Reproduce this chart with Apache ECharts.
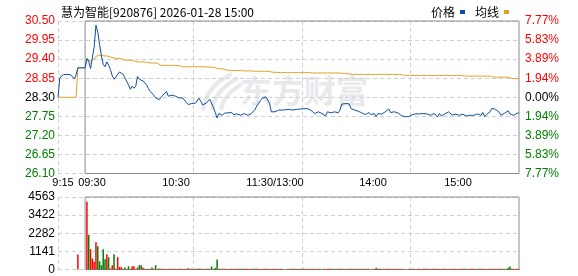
<!DOCTYPE html>
<html><head><meta charset="utf-8">
<script src="https://cdn.jsdelivr.net/npm/echarts@6/dist/echarts.min.js"></script>
<style>html,body{margin:0;padding:0;background:#fff}#c{width:578px;height:276px}</style>
</head><body><div id="c"></div>
<script>
const titleText = '慧为智能[920876] 2026-01-28 15:00';
const legendNames = ['价格', '均线'];
const prevClose = 28.30;
const volMax = 4563;
const xLabels = ['9:15', '09:30', '10:30', '11:30/13:00', '14:00', '15:00'];
const watermark = '东方财富';

const price = [
28.30,28.86,28.90,28.95,29.00,28.96,28.95,28.95,28.94,28.83,
28.95,29.15,29.15,29.15,29.15,29.15,29.42,29.34,29.13,29.13,
29.75,30.38,30.18,29.82,29.50,29.25,29.18,29.32,29.22,29.10,
28.92,28.82,28.88,28.90,29.03,29.02,28.96,28.86,28.84,28.66,
28.53,28.62,28.56,28.62,28.90,28.82,28.77,28.77,28.76,28.66,
28.55,28.47,28.42,28.36,28.28,28.25,28.23,28.30,28.36,28.40,
28.47,28.33,28.34,28.36,28.37,28.33,28.28,28.28,28.29,28.28,
28.24,28.15,28.09,28.07,28.12,28.13,28.13,28.14,28.27,28.18,
28.08,28.10,28.13,28.13,28.24,28.20,28.00,27.86,27.70,27.83,
27.88,27.78,27.84,27.88,27.85,27.83,27.86,27.80,27.78,27.82,
27.83,27.78,27.80,27.83,27.80,27.78,27.82,27.83,27.88,27.95,
28.05,28.13,28.20,28.27,28.32,28.31,28.30,28.13,27.88,27.88,
27.88,27.90,27.93,27.91,27.93,27.97,27.94,27.91,27.95,27.96,
27.93,27.92,27.95,27.97,27.96,27.92,27.97,27.94,27.97,27.95,
27.92,27.88,27.83,27.85,27.88,27.85,27.83,27.88,27.76,27.88,
27.86,27.85,27.86,27.88,27.86,27.85,27.93,28.10,28.13,28.12,
28.13,28.11,27.98,27.94,27.93,27.94,27.90,27.87,27.85,27.83,
27.80,27.78,27.86,27.80,27.79,27.83,27.74,27.83,27.82,27.81,
27.85,27.88,27.92,27.96,27.86,27.87,27.88,27.85,27.85,27.88,
27.77,27.74,27.74,27.74,27.74,27.78,27.80,27.83,27.82,27.81,
27.82,27.83,27.83,27.83,27.82,27.80,27.78,27.80,27.83,27.80,
27.74,27.83,27.76,27.81,27.82,27.83,27.88,27.84,27.79,27.80,
27.81,27.80,27.78,27.80,27.81,27.79,27.76,27.78,27.78,27.76,
27.78,27.78,27.82,27.86,27.78,27.86,27.74,27.80,27.83,27.88,
27.98,27.96,27.95,27.92,27.87,27.78,27.74,27.84,27.88,27.91,
27.82,27.80,27.78,27.83,27.84,27.85
];

const avgPrice = [
28.30,28.30,28.30,28.30,28.30,28.30,28.30,28.30,28.30,28.30,
28.30,29.15,29.15,29.15,29.15,29.15,29.38,29.36,29.34,29.34,
29.40,29.48,29.50,29.51,29.50,29.50,29.50,29.49,29.47,29.46,
29.45,29.43,29.42,29.42,29.42,29.41,29.38,29.37,29.37,29.37,
29.37,29.37,29.36,29.33,29.32,29.32,29.32,29.32,29.32,29.31,
29.30,29.29,29.29,29.29,29.29,29.28,29.24,29.22,29.22,29.22,
29.22,29.22,29.22,29.22,29.22,29.22,29.22,29.21,29.20,29.18,
29.18,29.18,29.18,29.18,29.18,29.18,29.18,29.18,29.18,29.18,
29.18,29.18,29.17,29.17,29.17,29.17,29.17,29.15,29.12,29.12,
29.12,29.12,29.12,29.09,29.07,29.07,29.07,29.07,29.07,29.07,
29.07,29.07,29.07,29.06,29.06,29.06,29.06,29.06,29.05,29.05,
29.05,29.05,29.05,29.05,29.05,29.05,29.05,29.04,29.03,29.02,
29.02,29.02,29.01,29.01,29.01,29.01,29.01,29.01,29.01,29.01,
29.01,29.01,29.01,29.01,29.01,29.01,29.01,29.01,29.01,29.01,
29.01,29.00,29.00,29.00,29.00,29.00,29.00,29.00,29.00,29.00,
29.00,29.00,29.00,29.00,29.00,29.00,29.00,28.99,28.99,28.99,
28.98,28.97,28.96,28.96,28.96,28.96,28.96,28.96,28.96,28.96,
28.96,28.96,28.96,28.96,28.96,28.96,28.96,28.96,28.96,28.96,
28.96,28.96,28.96,28.96,28.96,28.96,28.96,28.96,28.96,28.96,
28.95,28.94,28.93,28.93,28.93,28.93,28.93,28.93,28.93,28.93,
28.93,28.93,28.93,28.93,28.93,28.93,28.93,28.93,28.93,28.93,
28.93,28.93,28.93,28.93,28.93,28.93,28.93,28.93,28.93,28.93,
28.93,28.93,28.93,28.93,28.92,28.91,28.91,28.91,28.91,28.91,
28.91,28.91,28.91,28.91,28.91,28.91,28.91,28.91,28.91,28.91,
28.89,28.88,28.88,28.88,28.88,28.88,28.88,28.88,28.88,28.88,
28.86,28.84,28.84,28.84,28.84,28.84
];

const volume = [
0,0,0,0,0,0,0,0,0,0,
0,950,0,0,0,0,4270,2170,1280,690,
480,1720,1470,520,270,1280,650,960,780,60,
270,960,40,780,150,150,40,126,40,210,
40,210,210,40,126,273,273,126,40,40,
40,40,126,40,273,40,63,40,40,40,
40,40,40,40,40,40,40,40,40,40,
40,40,84,40,40,40,40,40,60,40,
40,40,40,40,40,190,40,105,630,40,
40,50,40,40,30,40,50,40,40,40,
40,40,50,40,40,40,40,40,50,40,
40,40,40,40,40,50,40,40,40,40,
40,40,40,40,40,0,0,40,40,40,
40,40,40,40,40,40,40,40,40,40,
40,40,40,40,40,40,0,40,40,40,
40,40,40,40,40,40,40,40,40,40,
40,40,40,40,40,40,40,40,40,40,
40,40,40,0,40,40,105,40,40,40,
40,40,40,40,40,40,40,40,40,40,
40,40,0,0,40,40,40,40,0,40,
40,40,40,40,40,40,40,40,40,40,
40,40,40,40,40,40,40,40,40,40,
40,40,40,40,40,40,40,40,40,40,
40,40,40,40,40,40,40,40,40,40,
40,40,40,40,40,40,40,40,40,110,
190,40,40,40,40,40
];

// 1 = rising minute (red), 0 = falling minute (green)
const volUp = [
1,1,1,1,1,1,1,1,1,1,
1,1,1,1,1,1,1,0,1,1,
1,1,0,0,0,0,0,1,0,1,
1,0,1,1,1,1,0,0,1,0,
0,1,1,0,1,0,0,1,0,1,
0,1,0,1,0,0,1,1,1,0,
1,1,0,0,1,1,0,1,1,1,
0,1,0,1,1,0,1,0,0,1,
1,0,1,1,0,0,1,0,0,1,
0,1,0,1,1,0,1,0,1,1,
1,0,0,1,1,1,0,1,1,0,
1,1,0,1,0,1,1,1,0,1,
1,0,1,1,0,1,1,1,0,1,
0,1,1,0,1,0,0,1,1,1,
0,1,0,1,1,0,1,0,1,1,
1,0,1,0,0,1,1,0,1,0,
1,1,0,1,1,0,0,1,0,1,
1,0,1,1,0,1,0,1,1,0,
1,1,0,1,0,1,1,0,1,1,
0,1,1,0,1,1,0,1,0,1,
1,0,0,1,1,0,1,1,0,1,
0,1,1,1,0,1,0,1,1,0,
1,1,0,1,1,0,1,0,1,1,
0,1,1,0,1,1,1,0,1,0,
1,0,1,1,0,1,0,1,0,0,
0,1,1,0,1,1
];

// minute categories: 9:15-11:30 and 13:01-15:00
const times = [];
function addRange(a, b) { for (let t = a; t <= b; t++) times.push(String(Math.floor(t / 60)).padStart(2, '0') + ':' + String(t % 60).padStart(2, '0')); }
addRange(9 * 60 + 15, 11 * 60 + 30);
addRange(13 * 60 + 1, 15 * 60);

const RED = '#ff0000', GREEN = '#008000', BLUE = '#0b4fa3', GOLD = '#dca426';
const GRIDC = '#cfcfcf', BOXC = '#8c8c8c';
const toCents = p => Math.round((p - prevClose) * 100);
const priceC = price.map(toCents);
const avgC = avgPrice.map(toCents);
const dashedIdx = [times.indexOf('09:15'), times.indexOf('10:30'), times.indexOf('11:30'), times.indexOf('14:00')];
const boxFrom = times.indexOf('09:30'), boxTo = times.length - 1;
const colorOf = v => { v = Number(v); return v > 0 ? RED : (v < 0 ? GREEN : '#000'); };
const FONT = 'Liberation Sans';

const chart = echarts.init(document.getElementById('c'), null, { renderer: 'canvas' });

const xLabelX = [63, 92, 176, 275, 373, 458];
const xAx = gi => ({
  type: 'category', gridIndex: gi, data: times, boundaryGap: false,
  axisLine: { show: false }, axisTick: { show: false }, axisLabel: { show: false },
  splitLine: { show: true, interval: (i) => dashedIdx.includes(i), lineStyle: { color: GRIDC, type: [4, 3], width: 1 } }
});
const boxArea = (ymin, ymax) => ({
  silent: true,
  itemStyle: { color: 'rgba(0,0,0,0)', borderColor: BOXC, borderWidth: 1 },
  data: [[{ xAxis: times[boxFrom], yAxis: ymin }, { xAxis: times[boxTo], yAxis: ymax }]]
});
const wmC = '#e8e8ed';

chart.setOption({
  animation: false,
  backgroundColor: '#fff',
  title: { text: titleText, left: 56, top: 1, textStyle: { fontSize: 12, fontWeight: 'normal', color: '#000', fontFamily: 'Noto Sans CJK SC' } },
  legend: {
    data: legendNames, right: 64, top: 1, align: 'right', icon: 'rect', itemWidth: 5, itemHeight: 4, itemGap: 10,
    textStyle: { fontSize: 12, color: '#000', fontFamily: 'Noto Sans CJK SC' }
  },
  grid: [
    { left: 58, right: 59, top: 21, height: 152.5 },
    { left: 58, right: 59, top: 197, height: 72.5 }
  ],
  xAxis: [xAx(0), xAx(1)],
  yAxis: [
    { type: 'value', gridIndex: 0, min: -220, max: 220, interval: 55,
      axisLine: { show: false }, axisTick: { show: false },
      axisLabel: { margin: 3, fontSize: 12, fontFamily: FONT, color: colorOf, formatter: v => (prevClose + v / 100).toFixed(2) },
      splitLine: { show: true, lineStyle: { color: GRIDC, type: [4, 3] } } },
    { type: 'value', gridIndex: 0, position: 'right', min: -220, max: 220, interval: 55,
      axisLine: { show: false }, axisTick: { show: false },
      axisLabel: { margin: 6, fontSize: 12, fontFamily: FONT, color: colorOf, formatter: v => (Math.abs(v) / 100 / prevClose * 100).toFixed(2) + '%' },
      splitLine: { show: false } },
    { type: 'value', gridIndex: 1, min: 0, max: volMax, interval: volMax / 4,
      axisLine: { show: false }, axisTick: { show: false },
      axisLabel: { margin: 3, fontSize: 12, fontFamily: FONT, color: '#000', formatter: v => String(Math.round(v)) },
      splitLine: { show: true, lineStyle: { color: GRIDC, type: [4, 3] } } }
  ],
  graphic: [
    { type: 'group', z: -10, silent: true, children: [
      { type: 'bezierCurve', shape: { x1: 203, y1: 110, x2: 232, y2: 74, cpx1: 205, cpy1: 92, cpx2: 218, cpy2: 80 }, style: { stroke: wmC, lineWidth: 4, fill: null } },
      { type: 'bezierCurve', shape: { x1: 212, y1: 110, x2: 238, y2: 78, cpx1: 214, cpy1: 95, cpx2: 226, cpy2: 84 }, style: { stroke: wmC, lineWidth: 4, fill: null } },
      { type: 'bezierCurve', shape: { x1: 221, y1: 110, x2: 242, y2: 84, cpx1: 223, cpy1: 98, cpx2: 233, cpy2: 89 }, style: { stroke: wmC, lineWidth: 4, fill: null } },
      { type: 'text', x: 240, y: 75, style: { text: watermark, font: 'bold 32px "Noto Sans CJK SC"', fill: wmC } }
    ] }
  ].concat(xLabels.map((t, i) => ({
    type: 'text', x: xLabelX[i], y: 183, silent: true,
    style: { text: t, font: '11px "Liberation Sans"', fill: '#000', textAlign: 'center', textVerticalAlign: 'middle' }
  }))),
  series: [
    { name: '价格', type: 'line', xAxisIndex: 0, yAxisIndex: 0, data: priceC, showSymbol: false, symbol: 'none',
      lineStyle: { color: BLUE, width: 1 }, itemStyle: { color: BLUE }, z: 4, markArea: boxArea(-220, 220) },
    { name: '均线', type: 'line', xAxisIndex: 0, yAxisIndex: 0, data: avgC, showSymbol: false, symbol: 'none',
      lineStyle: { color: GOLD, width: 1 }, itemStyle: { color: GOLD }, z: 3 },
    { name: 'vol', type: 'bar', xAxisIndex: 1, yAxisIndex: 2, barWidth: 1.5,
      data: volume.map((v, i) => ({ value: v, itemStyle: { color: volUp[i] ? RED : GREEN } })) },
    { name: 'volBox', type: 'line', xAxisIndex: 1, yAxisIndex: 2, data: [], silent: true,
      markArea: boxArea(0, volMax) }
  ]
});
</script></body></html>
